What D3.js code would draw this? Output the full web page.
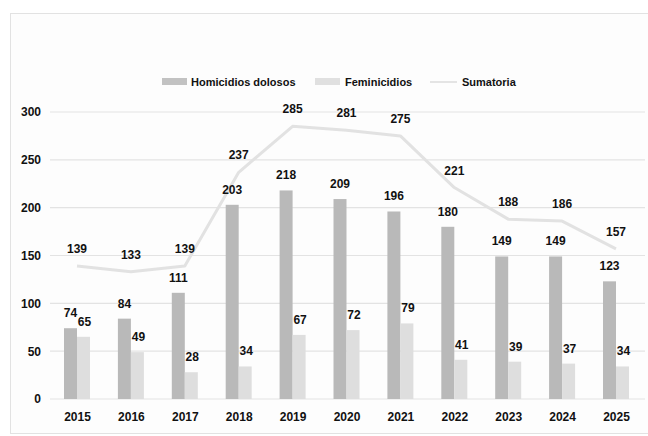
<!DOCTYPE html>
<html>
<head>
<meta charset="utf-8">
<script src="https://cdn.jsdelivr.net/npm/d3@7"></script>
<style>
  body { margin: 0; background: #ffffff; }
  svg text { font-family: "Liberation Sans", Arial, sans-serif; fill: #111; }
</style>
</head>
<body>
<div id="chart"></div>
<script>
// chart data
var years = ["2015", "2016", "2017", "2018", "2019", "2020", "2021", "2022", "2023", "2024", "2025"];
var homicidios = [74, 84, 111, 203, 218, 209, 196, 180, 149, 149, 123];
var feminicidios = [65, 49, 28, 34, 67, 72, 79, 41, 39, 37, 34];
var sumatoria = [139, 133, 139, 237, 285, 281, 275, 221, 188, 186, 157];
var yTicks = [0, 50, 100, 150, 200, 250, 300];
var seriesNames = ["Homicidios dolosos", "Feminicidios", "Sumatoria"];

var svgWidth = 648;
var svgHeight = 436;

var svg = d3.select("#chart")
  .append("svg")
  .attr("width", svgWidth)
  .attr("height", svgHeight);

// chart frame
svg.append("rect")
  .attr("x", 10.5)
  .attr("y", 13.5)
  .attr("width", 660)
  .attr("height", 420)
  .attr("fill", "#fdfdfd")
  .attr("stroke", "#e2e2e2");

// scales
var xScale = d3.scalePoint()
  .domain(years)
  .range([77, 616]);

var subScale = d3.scaleBand()
  .domain(["h", "f"])
  .range([-13, 13]);

var yScale = d3.scaleLinear()
  .domain([0, 300])
  .range([399, 112]);

// gridlines
svg.append("g")
  .selectAll("line")
  .data(yTicks)
  .enter()
  .append("line")
  .attr("x1", 50)
  .attr("x2", 645)
  .attr("y1", d => yScale(d))
  .attr("y2", d => yScale(d))
  .attr("stroke", "#e3e3e3")
  .attr("stroke-width", 1.2);

// y axis labels
var leftAxis = d3.axisLeft(yScale).tickValues(yTicks).tickSize(0).tickPadding(0);
var yAxis = svg.append("g")
  .attr("transform", "translate(41,0)")
  .call(leftAxis);
yAxis.select(".domain").remove();
yAxis.selectAll("text")
  .style("font-size", "12px")
  .style("font-weight", "bold")
  .attr("fill", "#111");

// x axis labels
var bottomAxis = d3.axisBottom(xScale).tickSize(0).tickPadding(0);
var xAxis = svg.append("g")
  .attr("transform", "translate(0,412)")
  .call(bottomAxis);
xAxis.select(".domain").remove();
xAxis.selectAll("text")
  .style("font-size", "12px")
  .style("font-weight", "bold")
  .attr("fill", "#111");

// bars
var barData = years.map((y, i) => ({ year: y, h: homicidios[i], f: feminicidios[i] }));

svg.append("g")
  .selectAll("rect")
  .data(barData)
  .enter()
  .append("rect")
  .attr("x", d => xScale(d.year) + subScale("h"))
  .attr("y", d => yScale(d.h))
  .attr("width", subScale.bandwidth())
  .attr("height", d => yScale(0) - yScale(d.h))
  .attr("fill", "#b9b9b9");

svg.append("g")
  .selectAll("rect")
  .data(barData)
  .enter()
  .append("rect")
  .attr("x", d => xScale(d.year) + subScale("f"))
  .attr("y", d => yScale(d.f))
  .attr("width", subScale.bandwidth())
  .attr("height", d => yScale(0) - yScale(d.f))
  .attr("fill", "#dedede");

// sumatoria line
var line = d3.line()
  .x((d, i) => xScale(years[i]))
  .y(d => yScale(d));

svg.append("path")
  .datum(sumatoria)
  .attr("d", line)
  .attr("fill", "none")
  .attr("stroke", "#e2e2e2")
  .attr("stroke-width", 3)
  .attr("stroke-linejoin", "round");

// value labels
var labels = svg.append("g")
  .style("font-size", "12px")
  .style("font-weight", "bold")
  .style("text-anchor", "middle");

labels.selectAll(".lh")
  .data(barData)
  .enter()
  .append("text")
  .attr("x", d => xScale(d.year) + subScale("h") + subScale.bandwidth() / 2)
  .attr("y", d => yScale(d.h) - 11)
  .text(d => d.h);

labels.selectAll(".lf")
  .data(barData)
  .enter()
  .append("text")
  .attr("x", d => xScale(d.year) + subScale("f") + subScale.bandwidth() / 2 + 1)
  .attr("y", d => yScale(d.f) - 11)
  .text(d => d.f);

labels.selectAll(".ls")
  .data(sumatoria)
  .enter()
  .append("text")
  .attr("x", (d, i) => xScale(years[i]))
  .attr("y", d => yScale(d) - 13)
  .text(d => d);

// legend
var legend = svg.append("g")
  .style("font-size", "11px")
  .style("font-weight", "bold");

var legendX = [162, 315, 430];
var legendTextX = [191, 345, 462];

legend.append("rect")
  .attr("x", legendX[0]).attr("y", 78)
  .attr("width", 25).attr("height", 7)
  .attr("fill", "#c2c2c2");
legend.append("rect")
  .attr("x", legendX[1]).attr("y", 78)
  .attr("width", 25).attr("height", 7)
  .attr("fill", "#e0e0e0");
legend.append("line")
  .attr("x1", legendX[2]).attr("x2", legendX[2] + 27)
  .attr("y1", 82).attr("y2", 82)
  .attr("stroke", "#e4e4e4")
  .attr("stroke-width", 2);

legend.selectAll("text")
  .data(seriesNames)
  .enter()
  .append("text")
  .attr("x", (d, i) => legendTextX[i])
  .attr("y", 86)
  .text(d => d);
</script>
</body>
</html>
